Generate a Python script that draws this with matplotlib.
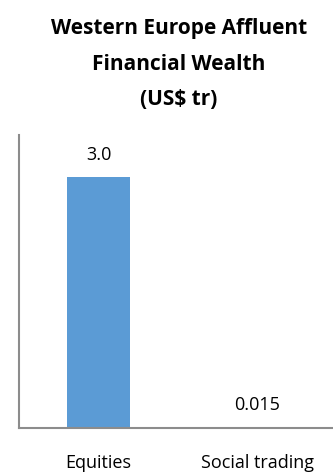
import matplotlib
matplotlib.use("Agg")
import matplotlib.pyplot as plt

categories = ["Equities", "Social trading"]
values = [3.0, 0.015]
value_labels = ["3.0", "0.015"]
title = "Western Europe Affluent\nFinancial Wealth\n(US$ tr)"

plt.rcParams['font.family'] = ['Open Sans', 'DejaVu Sans']

W, H = 333, 473
fig = plt.figure(figsize=(W/100, H/100), dpi=100)
# axes: x from 19 to 337, y from 135 to 428 (pixels from top)
ax = fig.add_axes([19/W, 1-428/H, (337-19)/W, (428-135)/H])
x = range(len(categories))
ax.bar(x, values, width=0.4, color="#5B9BD5", linewidth=0)
ax.set_xlim(-0.5, 1.5)
ax.set_ylim(0, 3.5)
for xi, v, lab in zip(x, values, value_labels):
    ax.text(xi, v + 0.15, lab, ha="center", va="bottom", fontsize=13, color="#000000")
ax.set_xticks(list(x))
ax.set_xticklabels(categories, fontsize=13)
ax.tick_params(axis="x", length=0, pad=19)
ax.set_yticks([])
for s in ["top", "right"]:
    ax.spines[s].set_visible(False)
for s in ["left", "bottom"]:
    ax.spines[s].set_color("#8C8C8C")
    ax.spines[s].set_linewidth(1.5)

fig.text(179/W, 1-64/H, title, ha="center", va="center", fontsize=15,
         fontweight="bold", linespacing=1.9)
fig.savefig("out.png", dpi=100)
